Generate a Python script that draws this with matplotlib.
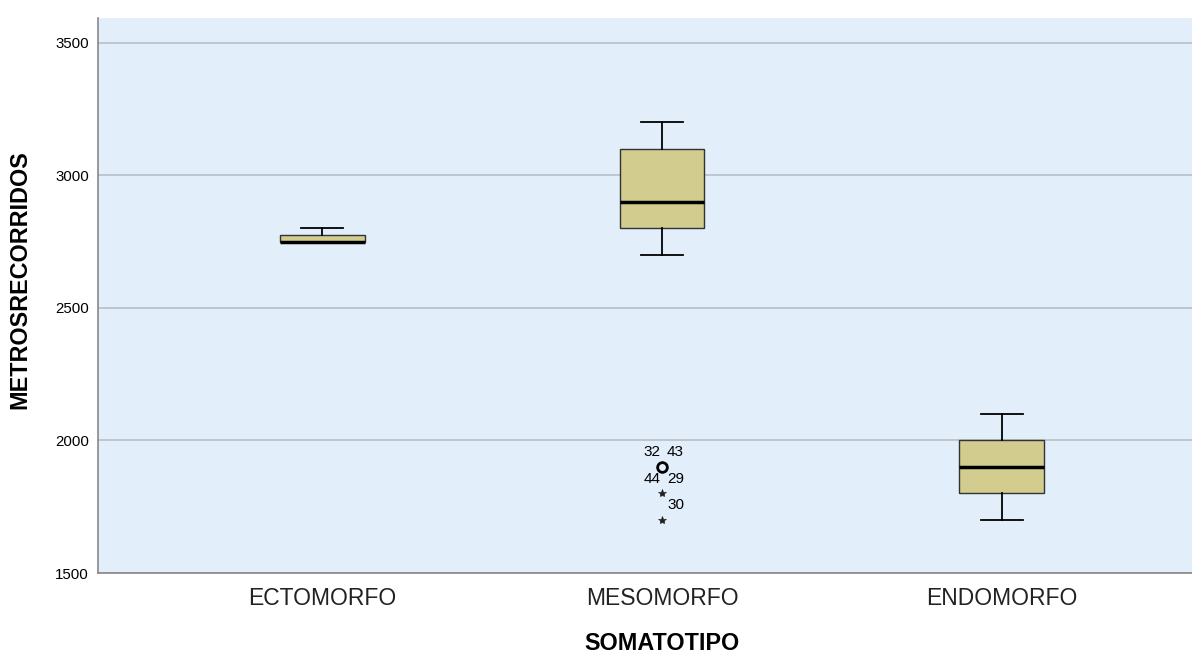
import matplotlib.pyplot as plt

plt.rcParams["font.family"] = ["Liberation Sans", "DejaVu Sans"]

# summary values
categories = ["ECTOMORFO", "MESOMORFO", "ENDOMORFO"]
whislo = [2750, 2700, 1700]
q1 = [2750, 2800, 1800]
med = [2750, 2900, 1900]
q3 = [2775, 3100, 2000]
whishi = [2800, 3200, 2100]

# outliers of MESOMORFO: value, marker, labels (left, right)
out_vals = [1900, 1800, 1700]
out_marks = ["o", "*", "*"]
out_left = ["32", "44", ""]
out_right = ["43", "29", "30"]

stats = []
for i, c in enumerate(categories):
    stats.append({"label": c, "whislo": whislo[i], "q1": q1[i], "med": med[i],
                  "q3": q3[i], "whishi": whishi[i], "fliers": []})

fig = plt.figure(figsize=(11.92, 6.53), dpi=100)
ax = fig.add_axes([0.0822, 0.1225, 0.9178, 0.85])
ax.set_facecolor("#E2EEFA")

ax.bxp(stats, positions=[1, 2, 3], widths=0.25, patch_artist=True,
       showfliers=False,
       boxprops=dict(facecolor="#D2CC8F", edgecolor="#333333", linewidth=1),
       medianprops=dict(color="black", linewidth=2.5),
       whiskerprops=dict(color="black", linewidth=1.3),
       capprops=dict(color="black", linewidth=1.3),
       capwidths=0.125)

for v, m, l, r in zip(out_vals, out_marks, out_left, out_right):
    if m == "o":
        ax.plot(2, v, marker="o", markersize=7, markerfacecolor="none",
                markeredgecolor="black", markeredgewidth=2, zorder=5)
    else:
        ax.plot(2, v, marker="*", markersize=6, color="#222222",
                markeredgewidth=0.5, zorder=5)
    if l:
        ax.text(1.995, v + 30, l, ha="right", va="bottom", fontsize=11)
    if r:
        ax.text(2.015, v + 30, r, ha="left", va="bottom", fontsize=11)

ax.set_xlim(0.34, 3.56)
ax.set_ylim(1500, 3594)
ax.set_yticks([1500, 2000, 2500, 3000, 3500])
ax.yaxis.grid(True, color="#B8BEC6", linewidth=1.2)
ax.set_axisbelow(True)
ax.tick_params(axis="y", labelsize=10.8, length=0, pad=6.5)
ax.tick_params(axis="x", labelsize=16.5, length=0, pad=10, labelcolor="#222222")
for s in ["top", "right"]:
    ax.spines[s].set_visible(False)
for s in ["left", "bottom"]:
    ax.spines[s].set_color("#888888")
    ax.spines[s].set_linewidth(1.2)

ax.set_ylabel("METROSRECORRIDOS", fontsize=16.8, fontweight="bold")
ax.set_xlabel("SOMATOTIPO", fontsize=16.8, fontweight="bold")
ax.yaxis.set_label_coords(-0.061, 0.528)
ax.xaxis.set_label_coords(0.5155, -0.106)

fig.savefig("out.png", dpi=100)
